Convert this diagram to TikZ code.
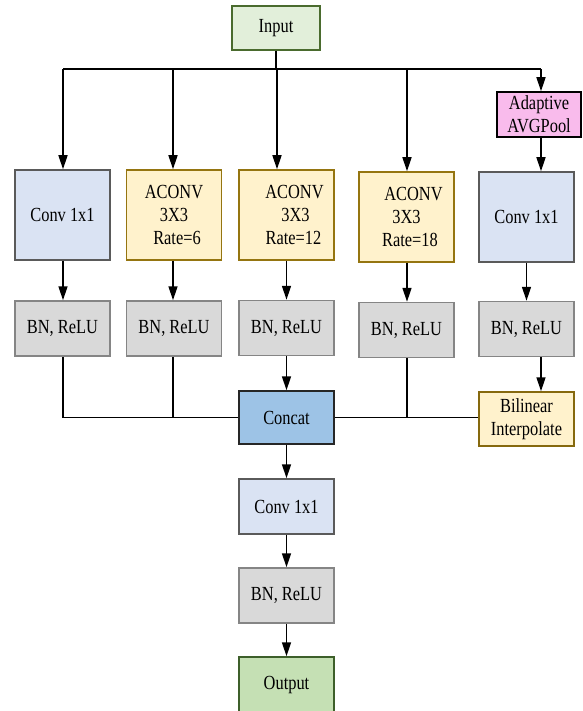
\documentclass[tikz,border=0pt]{standalone}
\usepackage{fontspec}
\setmainfont{Liberation Serif}[FakeStretch=0.82]
\usetikzlibrary{arrows.meta}

\definecolor{inputfill}{HTML}{E2EFDA}
\definecolor{inputdraw}{HTML}{4A6B2E}
\definecolor{outfill}{HTML}{C5E0B4}
\definecolor{outdraw}{HTML}{3D5F2A}
\definecolor{convfill}{HTML}{DAE3F3}
\definecolor{convdraw}{HTML}{5A5A5A}
\definecolor{acfill}{HTML}{FFF2CC}
\definecolor{acdraw}{HTML}{957510}
\definecolor{bnfill}{HTML}{D9D9D9}
\definecolor{bndraw}{HTML}{858585}
\definecolor{catfill}{HTML}{9DC3E6}
\definecolor{poolfill}{HTML}{F9BBEC}

\tikzset{
  blk/.style={rectangle, draw, line width=1.5pt, minimum width=95pt,
              align=center, inner sep=2pt, font=\fontsize{20}{23}\selectfont},
  convbox/.style={blk, fill=convfill, draw=convdraw, minimum height=90pt},
  aconvbox/.style={blk, fill=acfill, draw=acdraw, minimum height=90pt},
  bnbox/.style={blk, fill=bnfill, draw=bndraw, minimum height=55pt},
  wire/.style={line width=1.5pt},
  arr/.style={wire, -{Triangle[length=14pt,width=9pt]}}
}

\begin{document}
\begin{tikzpicture}[x=1pt, y=-1pt]
\useasboundingbox (0,0) rectangle (582,711);

  % input and broadcast bus
  \node[blk, fill=inputfill, draw=inputdraw, minimum width=88pt, minimum height=44pt]
       (input) at (276,28) {Input};
  \coordinate (busa) at (63,69);
  \coordinate (busb) at (173,69);
  \coordinate (busc) at (277,69);
  \coordinate (busd) at (407,69);
  \coordinate (buse) at (541,69);
  \draw[wire] (input.south) -- (input.south |- busa);
  \draw[wire] (busa) -- (buse);

  % pooling branch head
  \node[blk, fill=poolfill, draw=black, minimum width=84pt, minimum height=45pt]
       (pool) at (539,114.5) {Adaptive\\AVGPool};

  % first row
  \node[convbox]  (conva) at (62.5,215) {Conv 1x1};
  \node[aconvbox] (acsix) at (174,215) {ACONV\\3X3\\\hspace*{6pt}Rate=6};
  \node[aconvbox] (actwelve) at (286.5,215) {\hspace*{16pt}ACONV\\\hspace*{18pt}3X3\\\hspace*{14pt}Rate=12};
  \node[aconvbox] (aceighteen) at (406.5,217) {\hspace*{14pt}ACONV\\3X3\hspace*{25pt}\\\hspace*{7pt}Rate=18};
  \node[convbox]  (convb) at (526.5,217) {Conv 1x1};

  \draw[arr] (busa) -- (busa |- conva.north);
  \draw[arr] (busb) -- (busb |- acsix.north);
  \draw[arr] (busc) -- (busc |- actwelve.north);
  \draw[arr] (busd) -- (busd |- aceighteen.north);
  \draw[arr] (buse) -- (buse |- pool.north);
  \draw[arr] (buse |- pool.south) -- (buse |- convb.north);

  % second row
  \node[bnbox] (bna) at (62.5,328.5) {BN, ReLU};
  \node[bnbox] (bnb) at (174,328.5) {BN, ReLU};
  \node[bnbox] (bnc) at (286.5,328) {BN, ReLU};
  \node[bnbox] (bnd) at (406.5,330) {BN, ReLU};
  \node[bnbox] (bne) at (526.5,329) {BN, ReLU};

  \draw[arr] (busa |- conva.south) -- (busa |- bna.north);
  \draw[arr] (busb |- acsix.south) -- (busb |- bnb.north);
  \draw[arr] (actwelve.south) -- (bnc.north);
  \draw[arr] (busd |- aceighteen.south) -- (busd |- bnd.north);
  \draw[arr] (convb.south) -- (bne.north);

  % merge
  \node[blk, fill=catfill, draw=black!85, minimum height=53pt] (concat) at (286.5,417.5) {Concat};
  \node[blk, fill=acfill, draw=acdraw!90!black, minimum height=54pt] (bilin) at (526.5,419) {Bilinear\\Interpolate};

  \draw[wire] (busa |- bna.south) |- (concat.west);
  \draw[wire] (busb |- bnb.south) -- (busb |- concat.west);
  \draw[arr] (bnc.south) -- (concat.north);
  \draw[wire] (busd |- bnd.south) -- (busd |- concat.east);
  \draw[wire] (concat.east) -- (concat.east -| bilin.west);
  \draw[arr] (buse |- bne.south) -- (buse |- bilin.north);

  % output path
  \node[convbox, minimum height=55pt] (convc) at (286.5,506.5) {Conv 1x1};
  \node[bnbox] (bnf) at (286.5,595.5) {BN, ReLU};
  \node[blk, fill=outfill, draw=outdraw, minimum height=56pt] (output) at (286.5,685) {Output};

  \draw[arr] (concat.south) -- (convc.north);
  \draw[arr] (convc.south) -- (bnf.north);
  \draw[arr] (bnf.south) -- (output.north);

\end{tikzpicture}
\end{document}
